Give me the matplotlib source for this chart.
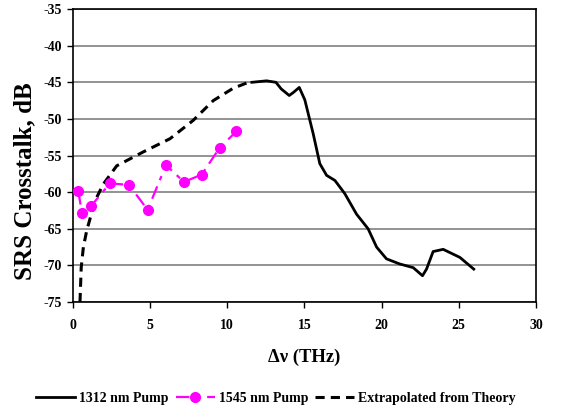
import matplotlib.pyplot as plt

# 1312 nm pump, measured
pump1312_x = [11.6, 12.55, 13.16, 13.5, 14.02, 14.28, 14.67, 15.03, 15.57, 16.0, 16.44,
              16.98, 17.62, 18.38, 19.13, 19.68, 20.32, 21.18, 22.05, 22.65, 22.91,
              23.34, 23.99, 25.07, 25.97]
pump1312_y = [-45.0, -44.8, -45.0, -45.9, -46.8, -46.4, -45.7, -47.4, -52.0, -56.1, -57.7,
              -58.4, -60.2, -63.0, -65.0, -67.5, -69.1, -69.8, -70.3, -71.4, -70.5,
              -68.1, -67.8, -68.9, -70.5]

# 1545 nm pump, measured points
pump1545_x = [0.36, 0.6, 1.18, 2.41, 3.64, 4.85, 6.04, 7.2, 8.35, 9.53, 10.6]
pump1545_y = [-59.9, -62.8, -61.9, -58.8, -59.0, -62.4, -56.3, -58.6, -57.6, -53.9, -51.7]

# extrapolated from theory
theory_x = [0.47, 0.55, 0.69, 0.9, 1.44, 1.98, 2.85, 4.57, 6.3, 7.8, 9.1, 10.4, 11.26, 11.6]
theory_y = [-75.0, -70.3, -67.5, -65.3, -61.2, -58.9, -56.4, -54.5, -52.7, -50.2, -47.5,
            -45.8, -45.1, -45.0]

x_ticks = [0, 5, 10, 15, 20, 25, 30]
y_ticks = [-75, -70, -65, -60, -55, -50, -45, -40, -35]

plt.rcParams["font.family"] = ["Liberation Serif", "DejaVu Serif"]
plt.rcParams["font.weight"] = "bold"
plt.rcParams["axes.unicode_minus"] = False

fig = plt.figure(figsize=(5.69, 4.11), dpi=100)
ax = fig.add_axes([0.1278, 0.265, 0.8142, 0.713])

ax.plot(pump1312_x, pump1312_y, color="black", lw=2.0, label="1312 nm Pump", zorder=3)
ax.plot(pump1545_x, pump1545_y, color="#ff00ff", lw=1.6, linestyle=(0, (6, 3, 2, 3)),
        marker="o", markersize=7, label="1545 nm Pump", zorder=4)
ax.plot(theory_x, theory_y, color="black", lw=2.2, linestyle=(0, (3, 2)),
        label="Extrapolated from Theory", zorder=3)

ax.set_xlim(0, 30)
ax.set_ylim(-75, -35)
ax.set_xticks(x_ticks)
ax.set_yticks(y_ticks)
ax.yaxis.grid(True, color="#808080", lw=1.2)
ax.set_axisbelow(True)
for s in ax.spines.values():
    s.set_linewidth(1.2)
ax.tick_params(direction="out", length=4, width=1, labelsize=10)
ax.tick_params(axis="x", pad=8)

ax.set_xlabel("Δν (THz)", fontsize=13.4, fontweight="bold", labelpad=12)
ax.set_ylabel("SRS Crosstalk, dB", fontsize=18, fontweight="bold")
ax.yaxis.set_label_coords(-0.078, 0.413)

fig.legend(loc="center", bbox_to_anchor=(0.485, 0.03), ncol=3, frameon=False,
           fontsize=10, handlelength=2.8, handletextpad=0.3, columnspacing=0.5)

fig.savefig("out.png", dpi=100)
